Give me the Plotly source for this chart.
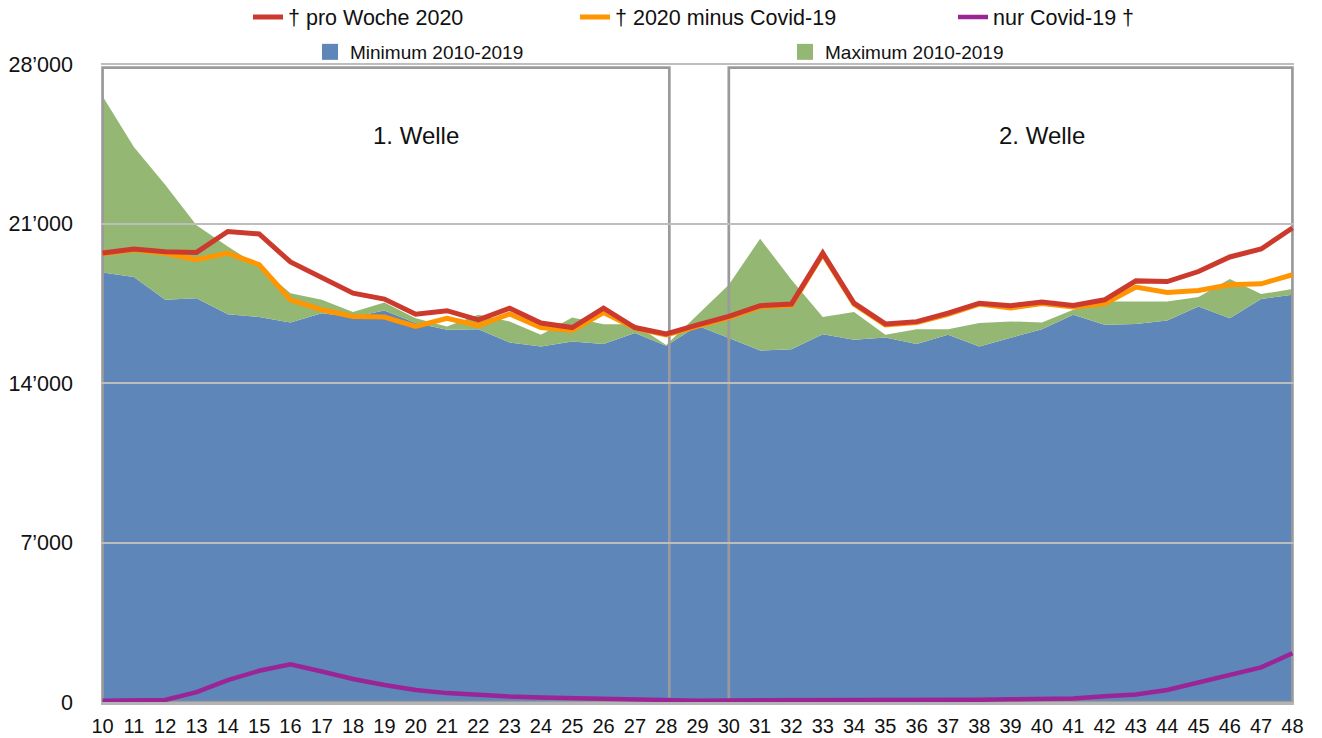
import plotly.graph_objects as go

# ---------------- data ----------------
WEEKS = list(range(10, 49))
TOTAL_2020 = [19710, 19890, 19770, 19740, 20660, 20550, 19320, 18610, 17950, 17690,
              17030, 17180, 16780, 17290, 16640, 16440, 17290, 16440, 16160, 16560,
              16930, 17400, 17470, 19710, 17510, 16600, 16700, 17070, 17510, 17400,
              17560, 17410, 17660, 18490, 18460, 18900, 19540, 19890, 20810]
WITHOUT_COVID = [19680, 19860, 19700, 19420, 19710, 19200, 17660, 17220, 16930, 16900,
                 16490, 16850, 16530, 17040, 16440, 16310, 17100, 16420, 16120, 16520,
                 16880, 17350, 17420, 19660, 17470, 16560, 16660, 17020, 17470, 17300,
                 17500, 17340, 17480, 18220, 17980, 18070, 18320, 18360, 18760]
COVID_ONLY = [60, 70, 90, 430, 960, 1370, 1650, 1340, 1010, 750,
              530, 390, 300, 240, 200, 170, 150, 120, 110, 60,
              70, 70, 100, 80, 80, 80, 80, 80, 100, 120,
              130, 150, 250, 330, 530, 860, 1230, 1520, 2140]
MIN_2010_2019 = [18860, 18660, 17660, 17730, 17030, 16900, 16660, 17070, 16900, 17190,
                 16640, 16340, 16370, 15780, 15610, 15830, 15720, 16200, 15640, 16520,
                 15980, 15430, 15490, 16150, 15900, 16000, 15720, 16120, 15610, 16000,
                 16370, 17000, 16560, 16600, 16750, 17360, 16850, 17690, 17880]
MAX_2010_2019 = [26600, 24370, 22710, 20930, 20000, 19120, 17950, 17660, 17120, 17540,
                 16850, 16490, 17000, 16710, 16120, 16880, 16590, 16590, 15680, 17000,
                 18320, 20340, 18540, 16900, 17120, 16120, 16370, 16370, 16640, 16710,
                 16660, 17220, 17580, 17580, 17580, 17780, 18570, 17910, 18130]

Y_TICKS = [0, 7000, 14000, 21000, 28000]
Y_TICK_LABELS = ["0", "7’000", "14’000", "21’000", "28’000"]

WAVE_NAMES = ["1. Welle", "2. Welle"]
WAVE_START = [10, 30]
WAVE_END = [28.1, 48]

# ---------------- style ----------------
FONT = "Liberation Sans, Arial, Helvetica, sans-serif"
BLUE = "#5E86B8"
GREEN = "#94B874"
RED = "#CC3A2E"
ORANGE = "#FF9500"
PURPLE = "#9B2496"
GRID = "#BDBDBD"
BOX = "#9A9A9A"

XR = [9.95, 48.05]
YR = [0, 28100]

fig = go.Figure()

# subplot 1: areas
fig.add_trace(go.Scatter(x=WEEKS, y=MIN_2010_2019, mode="lines", line=dict(width=0, color=BLUE),
                         fill="tozeroy", fillcolor=BLUE, showlegend=False, hoverinfo="skip",
                         xaxis="x", yaxis="y"))
fig.add_trace(go.Scatter(x=WEEKS, y=MAX_2010_2019, mode="lines", line=dict(width=0, color=GREEN),
                         fill="tonexty", fillcolor=GREEN, showlegend=False, hoverinfo="skip",
                         xaxis="x", yaxis="y"))

# legend proxies for areas
fig.add_trace(go.Scatter(x=[None], y=[None], mode="markers", name="Minimum 2010-2019",
                         marker=dict(symbol="square", size=16, color=BLUE),
                         legend="legend4", xaxis="x2", yaxis="y2"))
fig.add_trace(go.Scatter(x=[None], y=[None], mode="markers", name="Maximum 2010-2019",
                         marker=dict(symbol="square", size=16, color=GREEN),
                         legend="legend5", xaxis="x2", yaxis="y2"))

# subplot 2: lines
fig.add_trace(go.Scatter(x=WEEKS, y=COVID_ONLY, mode="lines", name="nur Covid-19 †",
                         line=dict(color=PURPLE, width=4.5), legend="legend3",
                         xaxis="x2", yaxis="y2"))
fig.add_trace(go.Scatter(x=WEEKS, y=WITHOUT_COVID, mode="lines", name="† 2020 minus Covid-19",
                         line=dict(color=ORANGE, width=5), legend="legend2",
                         xaxis="x2", yaxis="y2"))
fig.add_trace(go.Scatter(x=WEEKS, y=TOTAL_2020, mode="lines", name="† pro Woche 2020",
                         line=dict(color=RED, width=5), legend="legend",
                         xaxis="x2", yaxis="y2"))

shapes = []
annotations = []
for name, x0, x1, lx in zip(WAVE_NAMES, WAVE_START, WAVE_END, [20, 40]):
    shapes.append(dict(type="rect", xref="x2", yref="y2", x0=x0, x1=x1, y0=0, y1=27850,
                       line=dict(color=BOX, width=2.7), fillcolor="rgba(0,0,0,0)", layer="below"))
    annotations.append(dict(x=lx, y=24870, xref="x2", yref="y2", text=name, showarrow=False,
                            font=dict(family=FONT, size=24, color="#111"),
                            xanchor="center", yanchor="middle"))


def leg(px, py, size):
    return dict(orientation="h", xref="container", yref="container",
                x=px / 1322, y=1 - py / 738, xanchor="left", yanchor="middle",
                bgcolor="rgba(0,0,0,0)", borderwidth=0,
                font=dict(family=FONT, size=size, color="#111"), itemwidth=30)


fig.update_layout(
    width=1322, height=738,
    margin=dict(l=101, r=28, t=62, b=36, pad=0, autoexpand=False),
    paper_bgcolor="white", plot_bgcolor="rgba(0,0,0,0)",
    font=dict(family=FONT, color="#111"),
    showlegend=True,
    legend=leg(248, 17, 21.5),
    legend2=leg(575, 17, 21.5),
    legend3=leg(953, 17, 21.5),
    legend4=leg(310, 52, 19),
    legend5=leg(785, 52, 19),
    xaxis=dict(domain=[0, 1], range=XR, visible=False, anchor="y"),
    yaxis=dict(domain=[0, 1], range=YR, visible=False, anchor="x"),
    xaxis2=dict(domain=[0, 1], range=XR, anchor="y2", tickmode="array", tickvals=WEEKS,
                ticktext=[str(w) for w in WEEKS], showgrid=False, zeroline=False,
                showline=True, linecolor="#B4B4B4", linewidth=3, ticks="",
                ticklabelstandoff=4, layer="below traces",
                tickfont=dict(family=FONT, size=20, color="#111")),
    yaxis2=dict(domain=[0, 1], range=YR, anchor="x2", tickmode="array", tickvals=Y_TICKS,
                ticktext=Y_TICK_LABELS, showgrid=True, gridcolor=GRID, gridwidth=2,
                zeroline=False, showline=False, ticks="", ticklabelstandoff=27,
                tickfont=dict(family=FONT, size=21.5, color="#111")),
    shapes=shapes, annotations=annotations,
)

fig.write_html("out.html", config={"displayModeBar": False},
               post_script="document.body.style.margin='0px';")
